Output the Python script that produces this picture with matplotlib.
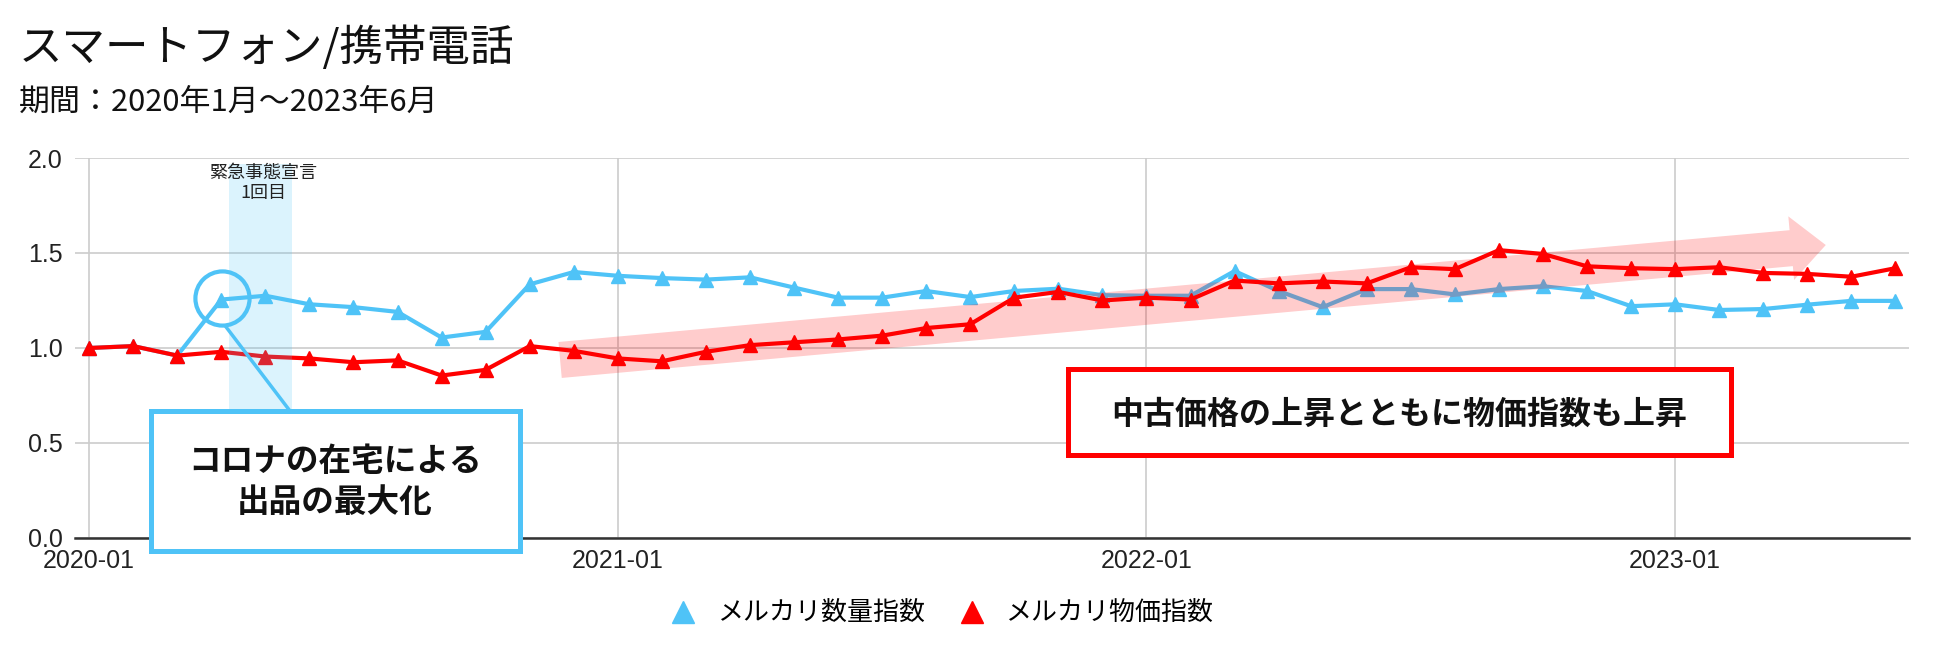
import matplotlib
matplotlib.use('Agg')
import matplotlib.pyplot as plt
from matplotlib.lines import Line2D
from matplotlib.patches import Rectangle, FancyArrowPatch

plt.rcParams['font.family'] = ['Noto Sans CJK JP', 'DejaVu Sans']

title = 'スマートフォン/携帯電話'
subtitle = '期間：2020年1月〜2023年6月'

# 2020-01 .. 2023-06, one point per month
months = list(range(42))
year_ticks = [0, 12, 24, 36]
year_labels = ['2020-01', '2021-01', '2022-01', '2023-01']
y_ticks = [0.0, 0.5, 1.0, 1.5, 2.0]

series_names = ['メルカリ数量指数', 'メルカリ物価指数']
volume_idx = [1.00, 1.01, 0.96, 1.255, 1.275, 1.23, 1.215, 1.19, 1.055, 1.085,
              1.335, 1.40, 1.38, 1.368, 1.36, 1.372, 1.318, 1.265, 1.265, 1.30,
              1.268, 1.30, 1.312, 1.278, 1.275, 1.275, 1.405, 1.30, 1.215, 1.31,
              1.31, 1.282, 1.31, 1.325, 1.30, 1.22, 1.23, 1.20, 1.205, 1.228,
              1.248, 1.248]
price_idx = [1.00, 1.01, 0.96, 0.98, 0.955, 0.945, 0.925, 0.935, 0.855, 0.885,
             1.01, 0.985, 0.945, 0.93, 0.98, 1.015, 1.03, 1.045, 1.065, 1.105,
             1.125, 1.265, 1.295, 1.25, 1.265, 1.255, 1.355, 1.34, 1.35, 1.34,
             1.425, 1.415, 1.515, 1.495, 1.43, 1.42, 1.415, 1.425, 1.395, 1.39,
             1.375, 1.42]

BLUE = '#4FC3F7'
RED = '#FF0000'

fig = plt.figure(figsize=(19.5, 6.65), dpi=100)
ax = fig.add_axes([0.0385, 0.191, 0.9405, 0.5714])

ax.plot(months, volume_idx, color=BLUE, lw=3, marker='^', ms=10.5, zorder=3)
ax.plot(months, price_idx, color=RED, lw=3, marker='^', ms=10.5, zorder=4)

ax.set_xlim(-0.32, 41.31)
ax.set_ylim(0, 2.0)
ax.set_xticks(year_ticks)
ax.set_xticklabels(year_labels)
ax.set_yticks(y_ticks)
ax.set_yticklabels(['%.1f' % v for v in y_ticks])
ax.tick_params(length=0, labelsize=18, colors='#222222')
ax.tick_params(axis='x', pad=8)
ax.tick_params(axis='y', pad=9)
for lab in ax.get_xticklabels() + ax.get_yticklabels():
    lab.set_fontfamily(['Liberation Sans', 'DejaVu Sans'])
ax.grid(True, color='#CCCCCC', lw=1.2)
ax.set_axisbelow(True)
for s in ['top', 'right', 'left']:
    ax.spines[s].set_visible(False)
ax.spines['bottom'].set_color('#333333')
ax.spines['bottom'].set_linewidth(1.8)

# 緊急事態宣言 1回目
ax.axvspan(3.18, 4.61, ymin=0, ymax=0.985, color=BLUE, alpha=0.2, lw=0, zorder=5)
ax.text(3.95, 1.87, '緊急事態宣言\n1回目', ha='center', va='center',
        fontsize=13, linespacing=1.15, color='#222222', zorder=6)

# upward trend arrow
arr = FancyArrowPatch((10.69, 0.937), (39.42, 1.542),
                      arrowstyle='simple,head_length=25,head_width=46,tail_width=26',
                      mutation_scale=1, color=RED, alpha=0.2, lw=0,
                      shrinkA=0, shrinkB=0, zorder=5)
ax.add_patch(arr)

# callout for the April 2020 jump
ax.plot(3.02, 1.263, marker='o', ms=39, mfc='none', mec=BLUE, mew=3, zorder=6)
ax.plot([3.09, 4.56], [1.116, 0.668], color=BLUE, lw=2.5, zorder=6,
        solid_capstyle='butt')
ax.add_patch(Rectangle((1.40, -0.066), 8.39, 0.732, fc='white', ec=BLUE,
                       lw=3.6, clip_on=False, zorder=7))
ax.text(5.58, 0.295, 'コロナの在宅による\n出品の最大化', ha='center', va='center',
        fontsize=23.5, fontweight='bold', linespacing=1.3, color='#111111',
        zorder=8)

ax.add_patch(Rectangle((22.21, 0.439), 15.05, 0.448, fc='white', ec=RED,
                       lw=3.6, clip_on=False, zorder=7))
ax.text(29.73, 0.647, '中古価格の上昇とともに物価指数も上昇', ha='center',
        va='center', fontsize=23, fontweight='bold', color='#111111', zorder=8)

fig.text(0.0097, 0.927, title, fontsize=31.3, va='center', ha='left',
         color='#111111')
fig.text(0.0097, 0.846, subtitle, fontsize=22.3, va='center', ha='left',
         color='#111111')

handles = [Line2D([], [], ls='none', marker='^', ms=16, color=BLUE),
           Line2D([], [], ls='none', marker='^', ms=16, color=RED)]
fig.legend(handles, series_names, loc='center', bbox_to_anchor=(0.483, 0.078),
           ncol=2, frameon=False, fontsize=18.7, handlelength=1.0,
           handletextpad=0.8, columnspacing=1.3)

fig.savefig('out.png', dpi=100)
